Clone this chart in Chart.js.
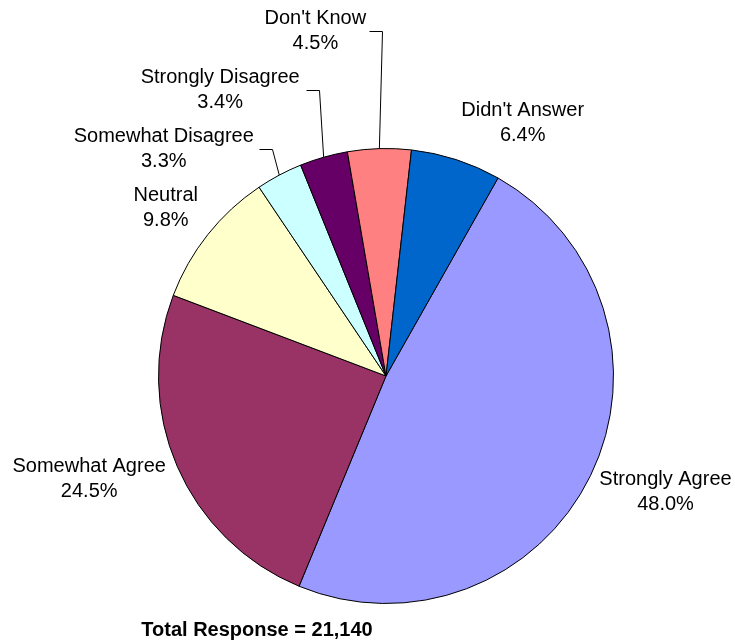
<!DOCTYPE html>
<html>
<head>
<meta charset="utf-8">
<script src="https://cdn.jsdelivr.net/npm/chart.js@4.4.1/dist/chart.umd.min.js"></script>
<style>
  html, body { margin: 0; padding: 0; background: #fff; }
  canvas { display: block; }
</style>
</head>
<body>
<canvas id="pieChart" width="735" height="642"></canvas>
<script>
const categories = ['Strongly Agree', 'Somewhat Agree', 'Neutral', 'Somewhat Disagree', 'Strongly Disagree', "Don't Know", "Didn't Answer"];
const percents = [48.0, 24.5, 9.8, 3.3, 3.4, 4.5, 6.4];
const sliceColors = ['#9999FF', '#993366', '#FFFFCC', '#CCFFFF', '#660066', '#FF8080', '#0066CC'];
const footerText = 'Total Response = 21,140';

// label placement relative to the outer middle of each slice
const labelOffsets = [[75, 16.5], [-88, 12.5], [-42, -26.5], [-115.5, -26], [-103.5, -67.5], [-64, -117.5], [66.5, -36.5]];
// leader elbow x shift from the slice point (null = no leader line)
const leaderDx = [null, null, null, -7, -5, 3, null];

const labelPlugin = {
    id: 'pieLabels',
    afterDatasetsDraw(chart) {
        const c = chart.ctx;
        const arcs = chart.getDatasetMeta(0).data;
        c.save();
        c.font = '20px "Liberation Sans", Arial, sans-serif';
        c.fillStyle = '#000';
        c.textAlign = 'center';
        c.textBaseline = 'middle';
        arcs.forEach((arc, i) => {
            const mid = (arc.startAngle + arc.endAngle) / 2;
            const px = arc.x + Math.cos(mid) * arc.outerRadius;
            const py = arc.y + Math.sin(mid) * arc.outerRadius;
            const lx = px + labelOffsets[i][0];
            const ly = py + labelOffsets[i][1];
            c.fillText(categories[i], lx, ly - 12.5);
            c.fillText(percents[i].toFixed(1) + '%', lx, ly + 12.5);
            if (leaderDx[i] !== null) {
                const ex = Math.round(px + leaderDx[i]) + 0.5;
                const ey = Math.round(ly) + 0.5;
                c.beginPath();
                c.strokeStyle = '#000';
                c.lineWidth = 1;
                c.moveTo(ex - 13, ey);
                c.lineTo(ex, ey);
                c.lineTo(px, py);
                c.stroke();
            }
        });
        c.font = 'bold 20px "Liberation Sans", Arial, sans-serif';
        c.fillText(footerText, 257, 630);
        c.restore();
    }
};

new Chart(document.getElementById('pieChart').getContext('2d'), {
    type: 'pie',
    data: {
        labels: categories,
        datasets: [{
            data: percents,
            backgroundColor: sliceColors,
            borderColor: '#000',
            borderWidth: 1
        }]
    },
    options: {
        responsive: false,
        animation: false,
        rotation: 29.5,
        layout: { padding: { left: 158, right: 121, top: 148, bottom: 38 } },
        plugins: {
            legend: { display: false },
            tooltip: { enabled: false }
        }
    },
    plugins: [labelPlugin]
});
</script>
</body>
</html>
